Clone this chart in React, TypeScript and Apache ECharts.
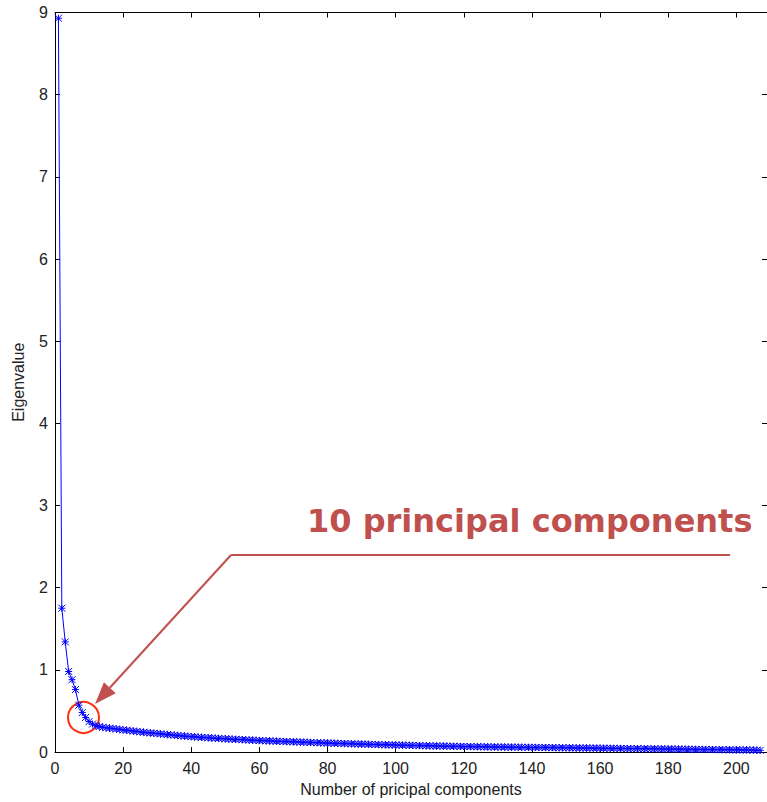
import React, { useEffect, useRef } from "react";
import * as echarts from "echarts";

// Eigenvalue of each principal component (component number = index + 1)
const eigenvalues: number[] = [
  8.93, 1.75, 1.34, 0.98, 0.88, 0.76, 0.57, 0.48, 0.42, 0.37,
  0.34, 0.32, 0.31, 0.30, 0.295, 0.29, 0.285, 0.28, 0.275, 0.27,
  0.265, 0.26, 0.255, 0.25, 0.245, 0.24, 0.235, 0.232, 0.228, 0.225,
  0.22, 0.216, 0.212, 0.208, 0.205, 0.2, 0.197, 0.194, 0.19, 0.187,
  0.184, 0.181, 0.178, 0.176, 0.173, 0.17, 0.168, 0.165, 0.163, 0.16,
  0.158, 0.156, 0.154, 0.152, 0.15, 0.148, 0.146, 0.144, 0.142, 0.14,
  0.138, 0.136, 0.135, 0.133, 0.131, 0.13, 0.128, 0.127, 0.125, 0.124,
  0.122, 0.121, 0.119, 0.118, 0.116, 0.115, 0.113, 0.112, 0.11, 0.109,
  0.108, 0.106, 0.105, 0.104, 0.102, 0.101, 0.1, 0.098, 0.097, 0.096,
  0.095, 0.094, 0.092, 0.091, 0.09, 0.089, 0.088, 0.087, 0.086, 0.085,
  0.084, 0.083, 0.082, 0.081, 0.08, 0.079, 0.078, 0.077, 0.076, 0.075,
  0.074, 0.073, 0.072, 0.072, 0.071, 0.07, 0.069, 0.068, 0.068, 0.067,
  0.066, 0.066, 0.065, 0.064, 0.064, 0.063, 0.062, 0.062, 0.061, 0.061,
  0.06, 0.06, 0.059, 0.059, 0.058, 0.058, 0.057, 0.057, 0.056, 0.056,
  0.056, 0.055, 0.055, 0.054, 0.054, 0.053, 0.053, 0.052, 0.052, 0.051,
  0.051, 0.05, 0.05, 0.049, 0.049, 0.048, 0.048, 0.047, 0.047, 0.046,
  0.046, 0.045, 0.045, 0.044, 0.044, 0.043, 0.043, 0.042, 0.042, 0.041,
  0.041, 0.04, 0.04, 0.039, 0.039, 0.038, 0.038, 0.037, 0.037, 0.036,
  0.036, 0.035, 0.035, 0.034, 0.034, 0.033, 0.033, 0.032, 0.032, 0.031,
  0.031, 0.03, 0.03, 0.029, 0.029, 0.028, 0.028, 0.027, 0.027, 0.026,
  0.026, 0.025, 0.025, 0.024, 0.023, 0.022, 0.02,
];

const xTitle = "Number of pricipal components";
const yTitle = "Eigenvalue";
const annotation = "10 principal components";

const X_MIN = 0;
const X_MAX = 209;
const X_STEP = 20;
const Y_MIN = 0;
const Y_MAX = 9;
const Y_STEP = 1;

const AXIS_COLOR = "#000000";
const LABEL_COLOR = "#222222";
const LINE_BLUE = "#0000ff";
const ANNOT = "#c0504d";
const CIRCLE = "#ff3010";

const ASTERISK = "path://M0,0L10,10M10,0L0,10M5,0L5,10M0,5L10,5";

export default function App() {
  const ref = useRef<HTMLDivElement>(null);

  useEffect(() => {
    if (!ref.current) return;
    const chart = echarts.init(ref.current, null, { renderer: "svg" });

    const points = eigenvalues.map((v, i) => [i + 1, v]);

    const labelFont = {
      fontFamily: "Liberation Sans, Arial, sans-serif",
      fontSize: 16,
      color: LABEL_COLOR,
    };

    const baseX = {
      type: "value" as const,
      min: X_MIN,
      max: X_MAX,
      interval: X_STEP,
      splitLine: { show: false },
      axisLine: { show: true, onZero: false, lineStyle: { color: AXIS_COLOR, width: 1 } },
      axisTick: { show: true, inside: true, length: 5, lineStyle: { color: AXIS_COLOR } },
    };
    const baseY = {
      type: "value" as const,
      min: Y_MIN,
      max: Y_MAX,
      interval: Y_STEP,
      splitLine: { show: false },
      axisLine: { show: true, onZero: false, lineStyle: { color: AXIS_COLOR, width: 1 } },
      axisTick: { show: true, inside: true, length: 5, lineStyle: { color: AXIS_COLOR } },
    };

    // arrow geometry (annotation)
    const tail = [231, 555];
    const tip = [95, 704];
    const dx = tip[0] - tail[0];
    const dy = tip[1] - tail[1];
    const len = Math.sqrt(dx * dx + dy * dy);
    const ux = dx / len;
    const uy = dy / len;
    const headLen = 22;
    const headHalf = 8;
    const bx = tip[0] - ux * headLen;
    const by = tip[1] - uy * headLen;
    const px = -uy;
    const py = ux;

    chart.setOption({
      animation: false,
      backgroundColor: "#ffffff",
      grid: { left: 55, right: -1, top: 12.5, bottom: 47, containLabel: false },
      xAxis: [
        {
          ...baseX,
          position: "bottom",
          name: xTitle,
          nameLocation: "middle",
          nameGap: 29,
          nameTextStyle: { ...labelFont, fontSize: 16 },
          axisLabel: { ...labelFont, margin: 8, showMaxLabel: false },
        },
        {
          ...baseX,
          position: "top",
          axisLabel: { show: false },
        },
      ],
      yAxis: [
        {
          ...baseY,
          position: "left",
          name: yTitle,
          nameLocation: "middle",
          nameGap: 29,
          nameRotate: 90,
          nameTextStyle: { ...labelFont, fontSize: 16 },
          axisLabel: { ...labelFont, margin: 7 },
        },
        {
          ...baseY,
          position: "right",
          axisLabel: { show: false },
        },
      ],
      series: [
        {
          type: "line",
          xAxisIndex: 0,
          yAxisIndex: 0,
          data: points,
          showSymbol: true,
          showAllSymbol: true,
          symbol: ASTERISK,
          symbolSize: 7,
          lineStyle: { color: LINE_BLUE, width: 1 },
          itemStyle: { color: LINE_BLUE, borderColor: LINE_BLUE, borderWidth: 1 },
          emphasis: { disabled: true },
          silent: true,
        },
      ],
      graphic: [
        {
          type: "text",
          left: 307,
          top: 505,
          style: {
            text: annotation,
            fill: ANNOT,
            font: "bold 32px 'DejaVu Sans', Verdana, sans-serif",
          },
        },
        {
          type: "line",
          shape: { x1: 730, y1: tail[1], x2: tail[0], y2: tail[1] },
          style: { stroke: ANNOT, lineWidth: 2 },
        },
        {
          type: "line",
          shape: { x1: tail[0], y1: tail[1], x2: bx, y2: by },
          style: { stroke: ANNOT, lineWidth: 2 },
        },
        {
          type: "polygon",
          shape: {
            points: [
              [tip[0], tip[1]],
              [bx + px * headHalf, by + py * headHalf],
              [bx - px * headHalf, by - py * headHalf],
            ],
          },
          style: { fill: ANNOT },
        },
        {
          type: "circle",
          shape: { cx: 83.5, cy: 717.5, r: 15.5 },
          style: { fill: "none", stroke: CIRCLE, lineWidth: 2 },
        },
      ],
    });

    return () => chart.dispose();
  }, []);

  return (
    <div
      ref={ref}
      style={{ position: "fixed", left: 0, top: 0, width: 767, height: 802, background: "#fff" }}
    />
  );
}
